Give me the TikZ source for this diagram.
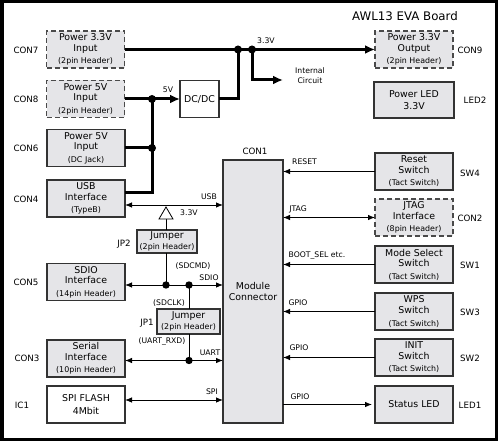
\documentclass[tikz,border=0pt]{standalone}
\usepackage{fontspec}
\setmainfont{DejaVu Sans}
\usetikzlibrary{arrows.meta}
\definecolor{boxfill}{HTML}{E5E5E8}
\definecolor{boxline}{HTML}{333333}
\definecolor{dashline}{HTML}{4A4A4A}
\newcommand\bxfont{\fontsize{9.4}{10.8}\selectfont}
\newcommand\subfont{\fontsize{7.9}{9}\selectfont}
\newcommand\sigfont{\fontsize{7.7}{9}\selectfont}
\newcommand\confont{\fontsize{8.7}{10}\selectfont}
\begin{document}
\begin{tikzpicture}[x=1pt,y=-1pt,
  every node/.style={inner sep=0pt, outer sep=0pt},
  blk/.style={draw=boxline, line width=1.6pt, fill=boxfill, align=center, font=\bxfont},
  dblk/.style={draw=dashline, line width=1.6pt, dash pattern=on 5pt off 3pt, fill=boxfill, align=center, font=\bxfont},
  wblk/.style={draw=boxline, line width=1.6pt, fill=white, align=center, font=\bxfont},
  wide/.style={minimum width=78pt, minimum height=37pt},
  lbl/.style={font=\confont},
  slbl/.style={font=\sigfont},
  sig/.style={line width=0.8pt},
  pwr/.style={line width=3pt},
  tip/.style={-{Latex[length=7pt,width=5.5pt]}},
  tipb/.style={{Latex[length=7pt,width=5.5pt]}-{Latex[length=7pt,width=5.5pt]}},
  ptip/.style={-{Latex[length=10pt,width=9pt]}}
]
\useasboundingbox (0,0) rectangle (498,441);
\draw[line width=3.5pt] (1.75,1.75) rectangle (496.25,439.25);

\node[font=\fontsize{11.8}{13}\selectfont] (title) at (405,16) {AWL13 EVA Board};

% left boxes
\node[dblk, wide] (con7) at (85.5,49.5) {Power 3.3V\\Input\\[1.5pt]{\subfont (2pin Header)}};
\node[dblk, wide] (con8) at (85.5,99) {Power 5V\\Input\\[1.5pt]{\subfont (2pin Header)}};
\node[blk, wide] (con6) at (86,148) {Power 5V\\Input\\[1.5pt]{\subfont (DC Jack)}};
\node[blk, wide] (con4) at (86,198.5) {USB\\Interface\\[1.5pt]{\subfont (TypeB)}};
\node[blk, wide] (con5) at (86,282) {SDIO\\Interface\\[1.5pt]{\subfont (14pin Header)}};
\node[blk, wide] (con3) at (86,358.5) {Serial\\Interface\\[1.5pt]{\subfont (10pin Header)}};
\node[wblk, wide] (ic1) at (86,404.5) {SPI FLASH\\[1.5pt]4Mbit};
\node[wblk, minimum width=39pt, minimum height=37pt] (dcdc) at (199.5,99) {DC/DC};

\node[lbl] (lcon7) at (26,50) {CON7};
\node[lbl] (lcon8) at (26,99) {CON8};
\node[lbl] (lcon6) at (26,148) {CON6};
\node[lbl] (lcon4) at (26,199) {CON4};
\node[lbl] (lcon5) at (26,282) {CON5};
\node[lbl] (lcon3) at (27,358) {CON3};
\node[lbl] (lic1) at (22,405) {IC1};

% jumpers
\node[blk, minimum width=60pt, minimum height=23pt] (jp2) at (167,241.5) {Jumper\\{\subfont (2pin Header)}};
\node[blk, minimum width=63pt, minimum height=25pt] (jp1) at (188.5,321.5) {Jumper\\{\subfont (2pin Header)}};
\node[lbl] (ljp2) at (124,244) {JP2};
\node[lbl] (ljp1) at (147,323) {JP1};

% module
\node[blk, minimum width=60pt, minimum height=263pt] (mod) at (253,291.5) {Module\\[1pt]Connector};
\node[lbl] (lcon1) at (255,151) {CON1};

% right boxes
\node[dblk, wide] (con9) at (414,49.5) {Power 3.3V\\Output\\[1.5pt]{\subfont (2pin Header)}};
\node[blk, minimum width=80pt, minimum height=36pt] (led2) at (414,100) {Power LED\\[1.5pt]3.3V};
\node[blk, wide] (sw4) at (414,171.5) {Reset\\Switch\\[1.5pt]{\subfont (Tact Switch)}};
\node[dblk, wide] (con2) at (414,217.5) {JTAG\\Interface\\[1.5pt]{\subfont (8pin Header)}};
\node[blk, wide] (sw1) at (414,264.5) {Mode Select\\Switch\\[1.5pt]{\subfont (Tact Switch)}};
\node[blk, wide] (sw3) at (414,311.5) {WPS\\Switch\\[1.5pt]{\subfont (Tact Switch)}};
\node[blk, wide] (sw2) at (414,357.5) {INIT\\Switch\\[1.5pt]{\subfont (Tact Switch)}};
\node[blk, wide] (led1) at (414,404.5) {Status LED};

\node[lbl] (lcon9) at (470,50) {CON9};
\node[lbl] (lled2) at (475,100) {LED2};
\node[lbl] (lsw4) at (470,173) {SW4};
\node[lbl] (lcon2) at (470,218) {CON2};
\node[lbl] (lsw1) at (470,265) {SW1};
\node[lbl] (lsw3) at (470,312) {SW3};
\node[lbl] (lsw2) at (470,358) {SW2};
\node[lbl] (lled1) at (470,405) {LED1};

% power network
\coordinate (d1) at (238,49.5);
\coordinate (d2) at (252,49.5);
\coordinate (ic) at (283,80);
\coordinate (d5) at (152,99);
\coordinate (d6) at (152,148);
\draw[pwr, ptip] (con7.east) -- (con9.west);
\draw[pwr] (dcdc.east) -| (d1);
\draw[pwr, ptip] (d2) |- (ic);
\draw[pwr, ptip] (con8.east) -- (dcdc.west);
\draw[pwr] (d5) |- (con4.east |- 0,192);
\draw[pwr] (con6.east) -- (d6);
\foreach \p in {d1,d2,d5,d6} \fill (\p) circle (4pt);
\node[slbl] (v33) at (266,41) {3.3V};
\node[slbl] (v5) at (168,90) {5V};
\node[slbl, align=center, font=\fontsize{7.7}{10}\selectfont] (intc) at (310,76) {Internal\\Circuit};

% left signals
\coordinate (d7) at (166,285);
\coordinate (d8) at (189,285);
\coordinate (d9) at (189,360.5);
\coordinate (tr) at (166,219);
\draw[sig, tipb] (con4.east |- 0,205) -- (mod.west |- 0,205);
\draw[sig, tipb] (con5.east |- 0,285) -- (mod.west |- 0,285);
\draw[sig, tipb] (con3.east |- 0,360.5) -- (mod.west |- 0,360.5);
\draw[sig, tipb] (ic1.east |- 0,400) -- (mod.west |- 0,400);
\draw[sig] (tr) -- (jp2.north -| tr);
\draw[sig, fill=white] (166,207) -- (173,219) -- (159,219) -- cycle;
\draw[sig] (d7) -- (jp2.south -| d7);
\draw[sig] (d8) -- (jp1.north -| d8);
\draw[sig] (d9) -- (jp1.south -| d9);
\foreach \p in {d7,d8,d9} \fill (\p) circle (3.7pt);
\node[slbl] (lusb) at (209,197) {USB};
\node[slbl] (l33b) at (189,213) {3.3V};
\node[slbl] (lsdcmd) at (193,266) {(SDCMD)};
\node[slbl] (lsdio) at (209,278) {SDIO};
\node[slbl] (lsdclk) at (169,303) {(SDCLK)};
\node[slbl] (lrxd) at (162,341) {(UART\_RXD)};
\node[slbl] (luart) at (210,353) {UART};
\node[slbl] (lspi) at (212,392) {SPI};

% right signals
\draw[sig, tip] (sw4.west) -- (mod.east |- sw4.west);
\draw[sig, tipb] (mod.east |- con2.west) -- (con2.west);
\draw[sig, tip] (sw1.west) -- (mod.east |- sw1.west);
\draw[sig, tip] (sw3.west) -- (mod.east |- sw3.west);
\draw[sig, tip] (sw2.west) -- (mod.east |- sw2.west);
\draw[sig, tip, shorten >=3pt] (mod.east |- led1.west) -- (led1.west);
\node[slbl] (lreset) at (304.5,162) {RESET};
\node[slbl] (ljtag) at (298,209) {JTAG};
\node[slbl] (lboot) at (317,256) {BOOT\_SEL etc.};
\node[slbl] (lg1) at (298,303) {GPIO};
\node[slbl] (lg2) at (299,348) {GPIO};
\node[slbl] (lg3) at (300,397) {GPIO};
\end{tikzpicture}
\end{document}
